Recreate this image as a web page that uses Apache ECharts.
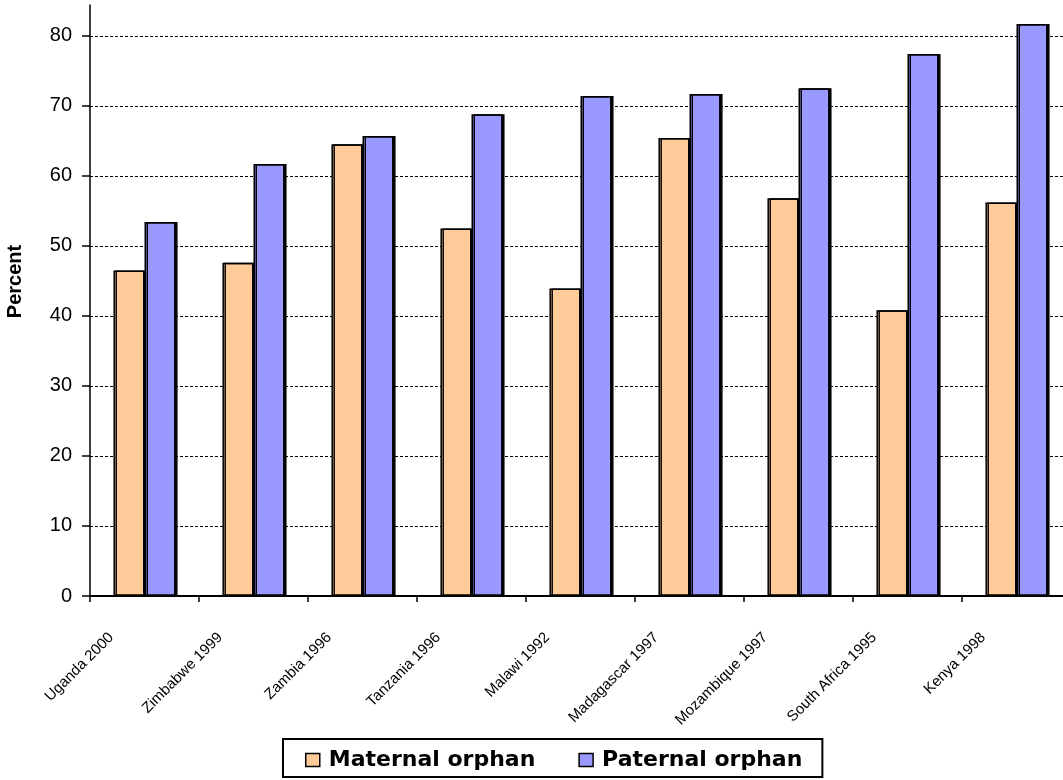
<!DOCTYPE html>
<html>
<head>
<meta charset="utf-8">
<script src="https://cdn.jsdelivr.net/npm/echarts@6/dist/echarts.min.js"></script>
<style>
  html, body { margin: 0; padding: 0; background: #ffffff; }
  #chart { width: 1063px; height: 780px; }
</style>
</head>
<body>
<div id="chart"></div>
<script>
// Share of orphans who have lost their mother vs. their father, by survey
const categories = [
  'Uganda 2000', 'Zimbabwe 1999', 'Zambia 1996', 'Tanzania 1996', 'Malawi 1992',
  'Madagascar 1997', 'Mozambique 1997', 'South Africa 1995', 'Kenya 1998'
];
const maternalOrphan = [46.5, 47.6, 64.5, 52.5, 43.9, 65.4, 56.8, 40.8, 56.2];
const paternalOrphan = [53.4, 61.7, 65.7, 68.8, 71.4, 71.7, 72.5, 77.4, 81.7];
const yTickValues = [0, 10, 20, 30, 40, 50, 60, 70, 80];
const seriesNames = ['Maternal orphan', 'Paternal orphan'];

const FONT = '"Liberation Sans", Arial, Helvetica, sans-serif';
const LEGEND_FONT = '"DejaVu Sans", "Liberation Sans", Arial, sans-serif';

const chart = echarts.init(document.getElementById('chart'), null, { renderer: 'canvas' });

const barStyle = (color) => ({
  color: color,
  borderColor: '#000000',
  borderWidth: 1.5,
  shadowColor: 'rgba(0,0,0,1)',
  shadowBlur: 0,
  shadowOffsetX: 2,
  shadowOffsetY: 0
});

chart.setOption({
  backgroundColor: '#ffffff',
  animation: false,
  grid: { left: 90, right: -8, top: 5, bottom: 184, containLabel: false, outerBoundsMode: 'none' },
  legend: {
    data: seriesNames,
    top: 739,
    left: 283,
    orient: 'horizontal',
    icon: 'rect',
    itemWidth: 14,
    itemHeight: 13,
    itemGap: 43,
    padding: [10, 20, 6, 22],
    borderColor: '#000000',
    borderWidth: 2,
    backgroundColor: '#ffffff',
    itemStyle: { borderColor: '#000000', borderWidth: 1.5 },
    textStyle: { fontFamily: LEGEND_FONT, fontSize: 22, fontWeight: 'bold', color: '#000000', padding: [0, 0, 0, 4] }
  },
  xAxis: {
    type: 'category',
    data: categories,
    boundaryGap: true,
    axisLine: { show: true, lineStyle: { color: '#000000', width: 2 } },
    axisTick: { show: true, length: 6, lineStyle: { color: '#000000', width: 1.5 } },
    axisLabel: {
      rotate: 45,
      interval: 0,
      margin: 6,
      padding: [0, 47, 0, 0],
      fontFamily: FONT,
      fontSize: 15,
      color: '#000000'
    },
    splitLine: { show: false }
  },
  yAxis: {
    type: 'value',
    min: 0,
    max: 84.4,
    interval: 10,
    name: 'Percent',
    nameLocation: 'middle',
    nameGap: 65,
    nameTextStyle: {
      fontFamily: FONT, fontSize: 20, fontWeight: 'bold', color: '#000000',
      padding: [0, 0, 0, 38]
    },
    axisLine: { show: true, lineStyle: { color: '#000000', width: 1.5 } },
    axisTick: {
      show: true, length: 8, inside: false,
      customValues: yTickValues,
      lineStyle: { color: '#000000', width: 1.5 }
    },
    axisLabel: {
      margin: 18,
      customValues: yTickValues,
      fontFamily: FONT,
      fontSize: 20,
      color: '#000000'
    },
    splitLine: {
      show: true,
      showMinLine: false,
      showMaxLine: true,
      lineStyle: { color: '#000000', width: 1, type: [3, 2] }
    }
  },
  series: [
    {
      name: seriesNames[0],
      type: 'bar',
      data: maternalOrphan,
      barGap: '0%',
      barCategoryGap: '43%',
      itemStyle: barStyle('#FFCC99')
    },
    {
      name: seriesNames[1],
      type: 'bar',
      data: paternalOrphan,
      barGap: '0%',
      barCategoryGap: '43%',
      itemStyle: barStyle('#9999FF')
    }
  ]
});
</script>
</body>
</html>
